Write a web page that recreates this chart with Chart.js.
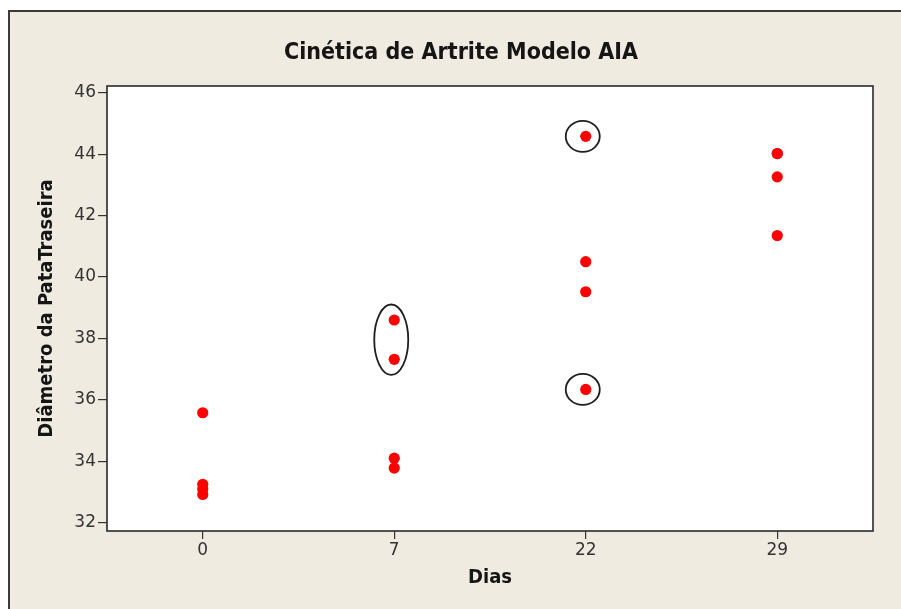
<!DOCTYPE html>
<html>
<head>
<meta charset="utf-8">
<script src="https://cdn.jsdelivr.net/npm/chart.js@4/dist/chart.umd.min.js"></script>
<style>
html,body{margin:0;padding:0;background:#fff;}
#wrap{width:901px;height:609px;position:relative;}
</style>
</head>
<body>
<div id="wrap"><canvas id="c" width="901" height="609"></canvas></div>
<script>
// ---- data ----
const days = ['0', '7', '22', '29'];
const day0Values  = [35.58, 33.25, 33.10, 32.92];
const day7Values  = [38.60, 37.32, 34.10, 33.78];
const day22Values = [44.58, 40.50, 39.52, 36.34];
const day29Values = [44.02, 44.02, 43.26, 41.35];
const yTicks = [32, 34, 36, 38, 40, 42, 44, 46];
// highlighted groups (ellipses drawn around these values)
const highlightDays = ['7', '22', '22'];
const highlightLow  = [37.32, 44.58, 36.34];
const highlightHigh = [38.60, 44.58, 36.34];

const valuesByDay = [day0Values, day7Values, day22Values, day29Values];
const points = [];
days.forEach((d, i) => valuesByDay[i].forEach(v => points.push({x: d, y: v})));

const COND = "'DejaVu Sans Condensed', 'DejaVu Sans', sans-serif";
const NORM = "'DejaVu Sans', sans-serif";

const framePlugin = {
  id: 'frame',
  beforeDraw(chart) {
    const ctx = chart.ctx, a = chart.chartArea;
    ctx.save();
    ctx.fillStyle = '#ffffff';
    ctx.fillRect(0, 0, chart.width, chart.height);
    ctx.fillStyle = '#efebe1';
    ctx.fillRect(9, 11, chart.width - 9, chart.height - 11);
    ctx.strokeStyle = '#3a3a3a';
    ctx.lineWidth = 2;
    ctx.beginPath();
    ctx.moveTo(9, chart.height); ctx.lineTo(9, 11); ctx.lineTo(chart.width, 11);
    ctx.stroke();
    ctx.fillStyle = '#ffffff';
    ctx.fillRect(a.left, a.top, a.right - a.left, a.bottom - a.top);
    ctx.restore();
  },
  afterDraw(chart) {
    const ctx = chart.ctx, a = chart.chartArea;
    ctx.save();
    ctx.strokeStyle = '#2a2a2a';
    ctx.lineWidth = 1.6;
    ctx.strokeRect(a.left, a.top, a.right - a.left, a.bottom - a.top);
    // highlight ellipses
    const xs = chart.scales.x, ys = chart.scales.y;
    ctx.strokeStyle = '#1e1e1e';
    ctx.lineWidth = 1.8;
    highlightDays.forEach((d, i) => {
      const cx = xs.getPixelForValue(days.indexOf(d)) - 3;
      const yHi = ys.getPixelForValue(highlightHigh[i]);
      const yLo = ys.getPixelForValue(highlightLow[i]);
      const cy = (yHi + yLo) / 2;
      const ry = (yLo - yHi) / 2 + 15.5;
      ctx.beginPath();
      ctx.ellipse(cx, cy, 17, ry, 0, 0, Math.PI * 2);
      ctx.stroke();
    });
    ctx.restore();
  }
};

new Chart(document.getElementById('c'), {
  type: 'scatter',
  data: {
    labels: days,
    datasets: [{
      data: points,
      backgroundColor: '#ff0000',
      borderColor: '#ff0000',
      borderWidth: 0,
      pointRadius: 5.6,
      pointHoverRadius: 5.6
    }]
  },
  options: {
    responsive: false,
    animation: false,
    devicePixelRatio: 1,
    layout: {padding: {left: 49, right: 28, top: 0, bottom: 0}},
    plugins: {
      legend: {display: false},
      tooltip: {enabled: false},
      title: {
        display: true,
        text: 'Cinética de Artrite Modelo AIA',
        color: '#151515',
        font: {family: COND, size: 23, weight: 'bold', lineHeight: 1.2},
        padding: {top: 39, bottom: 19.4}
      }
    },
    scales: {
      x: {
        type: 'category',
        labels: days,
        offset: true,
        border: {display: false},
        grid: {display: true, drawOnChartArea: false, drawTicks: true, tickLength: 8, color: '#333', lineWidth: 1.2},
        ticks: {color: '#333', font: {family: NORM, size: 17}, padding: 1},
        title: {display: true, text: 'Dias', color: '#151515',
                font: {family: COND, size: 20, weight: 'bold', lineHeight: 1.2},
                padding: {top: 0, bottom: 19}},
        afterFit(s) { s.height = 78; }
      },
      y: {
        type: 'linear',
        min: 31.73,
        max: 46.22,
        afterBuildTicks(s) { s.ticks = yTicks.map(v => ({value: v})); },
        border: {display: false},
        grid: {display: true, drawOnChartArea: false, drawTicks: true, tickLength: 9, color: '#333', lineWidth: 1.2},
        ticks: {color: '#333', font: {family: NORM, size: 17}, padding: 2},
        title: {display: true, text: 'Diâmetro da PataTraseira', color: '#151515',
                font: {family: COND, size: 20, weight: 'bold', lineHeight: 1.2},
                padding: {top: -14, bottom: 0}},
        afterFit(s) { s.width = 58; }
      }
    }
  },
  plugins: [framePlugin]
});
</script>
</body>
</html>
